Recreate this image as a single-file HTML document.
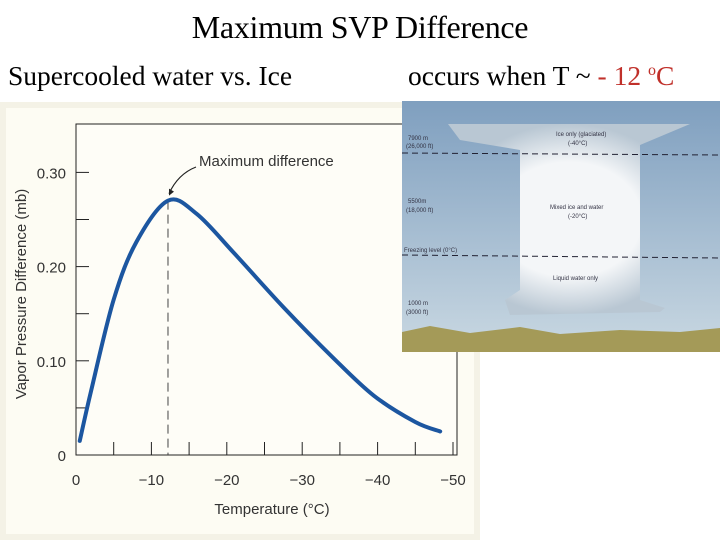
<!DOCTYPE html>
<html><head><meta charset="utf-8"><style>
body{margin:0;width:720px;height:540px;background:#fff;overflow:hidden;position:relative;font-family:"Liberation Serif",serif}
.t{position:absolute;white-space:nowrap;color:#000}
</style></head><body>
<div class="t" style="left:0;width:720px;text-align:center;top:9px;font-size:32px;letter-spacing:-0.3px">Maximum SVP Difference</div>
<div class="t" style="left:8px;top:60px;font-size:27.5px">Supercooled water vs. Ice</div>
<div class="t" style="left:408px;top:60px;font-size:27.5px">occurs when T ~ <span style="color:#c0302a">- 12 <sup style="font-size:16px">o</sup>C</span></div>
<svg id="chart" width="720" height="540" style="position:absolute;left:0;top:0" font-family="Liberation Sans, sans-serif">
<rect x="0" y="102" width="480" height="438" fill="#f4f2e6"/>
<rect x="6" y="108" width="468" height="426" fill="#fdfcf3"/>
<g id="axes"></g>
<g id="series"></g>
<g>
<defs><linearGradient id="sky" x1="0" y1="0" x2="0" y2="1"><stop offset="0" stop-color="#7f9fbf"/><stop offset="1" stop-color="#c9d8e2"/></linearGradient>
<radialGradient id="cl" cx="0.5" cy="0.5" r="0.5"><stop offset="0.6" stop-color="#f4f6f8"/><stop offset="1" stop-color="#b9c7d3"/></radialGradient></defs>
<rect x="402" y="101" width="318" height="251" fill="url(#sky)"/>
<path d="M448 124 L690 124 L640 145 L640 300 L665 308 L660 312 L510 315 L505 300 L520 290 L520 150 L460 140Z" fill="url(#cl)"/>
<path d="M402 332 L430 326 L470 333 L520 327 L560 334 L620 330 L680 332 L720 328 L720 352 L402 352Z" fill="#a49a58"/>
<line x1="402" y1="153" x2="720" y2="155" stroke="#223" stroke-dasharray="6,4"/>
<line x1="402" y1="255" x2="720" y2="258" stroke="#223" stroke-dasharray="6,4"/>
<g font-size="6" fill="#334"><text x="408" y="140">7900 m</text><text x="406" y="148">(26,000 ft)</text><text x="408" y="203">5500m</text><text x="406" y="212">(18,000 ft)</text><text x="404" y="252">Freezing level (0°C)</text><text x="408" y="305">1000 m</text><text x="406" y="314">(3000 ft)</text>
<text x="556" y="136">Ice only (glaciated)</text><text x="568" y="145">(-40°C)</text><text x="550" y="209">Mixed ice and water</text><text x="568" y="218">(-20°C)</text><text x="553" y="280">Liquid water only</text></g>
</g>
</svg>
<script>
const temps=[-0.5,-2,-5,-8,-12.2,-16,-21,-27.5,-34,-39.5,-45,-48.3];
const values=[0.015,0.068,0.165,0.226,0.27,0.256,0.214,0.157,0.104,0.063,0.035,0.025];
const yTicks=[0,0.10,0.20,0.30];
const yTickLabels=["0","0.10","0.20","0.30"];
const xTicks=[0,-10,-20,-30,-40,-50];
const xTickLabels=["0","\u221210","\u221220","\u221230","\u221240","\u221250"];
const peakT=-12.2;
const NS="http://www.w3.org/2000/svg";
const X=t=>76+(-t)*7.54;
const Y=v=>455-v*942;
function mk(tag,attrs,parent,txt){const e=document.createElementNS(NS,tag);for(const k in attrs)e.setAttribute(k,attrs[k]);if(txt!==undefined)e.textContent=txt;parent.appendChild(e);return e;}
const ax=document.getElementById('axes'),se=document.getElementById('series');
let e;
e=mk('rect',{x:76,y:124,width:381,height:331,fill:'#fefdf7',stroke:'#222','stroke-width':1},ax);


for(let v=0;v<=0.30001;v+=0.05){e=mk('line',{x1:76,x2:89,y1:Y(v),y2:Y(v),stroke:'#222'},ax);

}
yTicks.forEach((v,i)=>{e=mk('text',{x:66,y:Y(v)+6,'text-anchor':'end','font-size':15,fill:'#333'},ax,yTickLabels[i]);

});
for(let t=0;t>=-50;t-=5){e=mk('line',{x1:X(t),x2:X(t),y1:455,y2:442,stroke:'#222'},ax);

}
xTicks.forEach((t,i)=>{e=mk('text',{x:X(t),y:485,'text-anchor':'middle','font-size':15,fill:'#333'},ax,xTickLabels[i]);

});
e=mk('text',{x:272,y:514,'text-anchor':'middle','font-size':15,fill:'#333'},ax,'Temperature (°C)');


e=mk('text',{x:26,y:294,'text-anchor':'middle','font-size':15,fill:'#333',transform:'rotate(-90 26 294)'},ax,'Vapor Pressure Difference (mb)');


const pv=Math.max(...values);
e=mk('line',{x1:X(peakT),x2:X(peakT),y1:Y(pv),y2:455,stroke:'#444','stroke-dasharray':'9,5'},se);


const pts=temps.map((t,i)=>[X(t),Y(values[i])]);
let d='M'+pts[0][0]+' '+pts[0][1];
for(let i=0;i<pts.length-1;i++){const p0=pts[Math.max(0,i-1)],p1=pts[i],p2=pts[i+1],p3=pts[Math.min(pts.length-1,i+2)];
d+=` C${p1[0]+(p2[0]-p0[0])/6} ${p1[1]+(p2[1]-p0[1])/6} ${p2[0]-(p3[0]-p1[0])/6} ${p2[1]-(p3[1]-p1[1])/6} ${p2[0]} ${p2[1]}`;}
e=mk('path',{d:d,fill:'none',stroke:'#1c56a0','stroke-width':4,'stroke-linecap':'round'},se);


e=mk('path',{d:`M196 167 Q178 174 ${X(peakT)+1} ${Y(pv)-7}`,fill:'none',stroke:'#222','stroke-width':1.2},se);


e=mk('path',{d:`M${X(peakT)+1} ${Y(pv)-5} l0 -7 l5 3z`,fill:'#222'},se);


e=mk('text',{x:199,y:166,'font-size':15,fill:'#333'},se,'Maximum difference');


</script>
</body></html>
